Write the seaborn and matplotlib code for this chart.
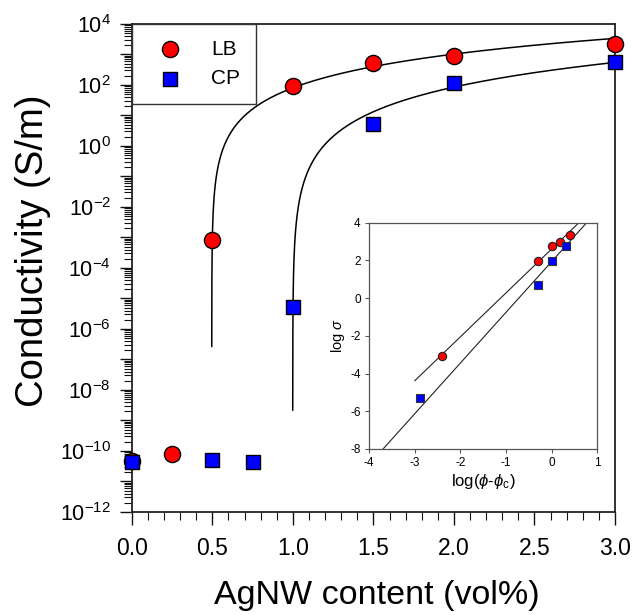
# %%--  Import
import numpy as np
import matplotlib
matplotlib.use("Agg")
import matplotlib.pyplot as plt
import matplotlib.ticker as mticker
import seaborn as sns
# %%-

# %%--  Data
#   Main plot: conductivity vs AgNW content
lb_x = [0.0, 0.25, 0.5, 1.0, 1.5, 2.0, 3.0]
lb_y = [4.8e-11, 7.8e-11, 8.3e-4, 93, 540, 890, 2150]
cp_x = [0.0, 0.5, 0.75, 1.0, 1.5, 2.0, 3.0]
cp_y = [4.5e-11, 5.0e-11, 4.3e-11, 5.1e-6, 5.2, 114, 550]

#   Inset: log(phi - phi_c) vs log sigma
lb_logx = [-2.39, -0.30, 0.0, 0.18, 0.40]
lb_logs = [-3.07, 1.97, 2.75, 2.98, 3.35]
cp_logx = [-2.88, -0.30, 0.0, 0.31]
cp_logs = [-5.31, 0.71, 1.97, 2.76]

#   Percolation fits: log sigma = a + t*log(phi - phi_c)
lb_a, lb_t, lb_phic = 2.6, 2.33, 0.4959
cp_a, cp_t, cp_phic = 1.93, 2.69, 0.9987
lb_fit_range = [-3.0, 0.6]
cp_fit_range = [-3.8, 0.8]
# %%-

# %%--  Style
sns.set_style("ticks")
plt.rcParams['font.family'] = ['Liberation Sans', 'DejaVu Sans']
plt.rcParams['mathtext.fontset'] = 'custom'
plt.rcParams['mathtext.rm'] = 'Liberation Sans'
plt.rcParams['mathtext.it'] = 'Liberation Sans:italic'
plt.rcParams['mathtext.bf'] = 'Liberation Sans:bold'
plt.rcParams['axes.unicode_minus'] = False
for k in ['text.color', 'axes.labelcolor', 'xtick.color', 'ytick.color']:
    plt.rcParams[k] = 'black'
# %%-

# %%--  Plot
fig = plt.figure(figsize=(6.34, 6.15), dpi=100)
ax = fig.add_axes([0.208, 0.1675, 0.762, 0.7935])

#   Fit curves
for a, t, phic in [(lb_a, lb_t, lb_phic), (cp_a, cp_t, cp_phic)]:
    d = np.geomspace(1.15e-4, 3.0 - phic, 500)
    sns.lineplot(x=phic + d, y=10**(a + t*np.log10(d)), color='k', lw=1.1,
                 estimator=None, sort=False, ax=ax, zorder=2)

sns.scatterplot(x=lb_x, y=lb_y, marker='o', s=135, color='#ff0000', edgecolor='k',
                linewidth=1.0, ax=ax, label='LB', zorder=3, clip_on=False)
sns.scatterplot(x=cp_x, y=cp_y, marker='s', s=115, color='#0000ff', edgecolor='k',
                linewidth=1.0, ax=ax, label='CP', zorder=4, clip_on=False)

ax.set_yscale('log')
ax.set_xlim(0, 3)
ax.set_ylim(1e-12, 1e4)
ax.yaxis.set_major_locator(mticker.FixedLocator(10.0**np.arange(-12, 5)))
ax.yaxis.set_minor_locator(mticker.LogLocator(base=10, subs=np.arange(2, 10), numticks=100))
ax.yaxis.set_major_formatter(mticker.FuncFormatter(
    lambda v, p: r'$\mathregular{10^{%d}}$' % round(np.log10(v)) if round(np.log10(v)) % 2 == 0 else ''))
ax.xaxis.set_major_locator(mticker.MultipleLocator(0.5))
ax.xaxis.set_minor_locator(mticker.MultipleLocator(0.1))
ax.xaxis.set_major_formatter(mticker.FormatStrFormatter('%.1f'))

ax.tick_params(which='major', direction='out', length=9, width=1.0, color='#111')
ax.tick_params(which='minor', direction='out', length=5.5, width=0.8, color='#111')
ax.tick_params(axis='x', which='major', labelsize=16.5, pad=9)
ax.tick_params(axis='y', which='major', labelsize=15.5, pad=6)
for s in ax.spines.values():
    s.set_color('#222')
    s.set_linewidth(1.3)

ax.set_xlabel('AgNW content (vol%)', fontsize=24.5)
ax.set_ylabel('Conductivity (S/m)', fontsize=27.5)
ax.xaxis.set_label_coords(0.507, -0.140)
ax.yaxis.set_label_coords(-0.168, 0.535)

leg = ax.legend(loc='upper left', bbox_to_anchor=(0, 1), borderaxespad=0, fontsize=15,
                frameon=True, fancybox=False, edgecolor='#333', borderpad=0.75,
                handlelength=2.2, handletextpad=0.85, labelspacing=0.5)
leg.get_frame().set_linewidth(1.0)
leg.get_frame().set_alpha(1)

#   Inset
axins = fig.add_axes([0.582, 0.270, 0.360, 0.368])
sns.lineplot(x=np.linspace(*lb_fit_range, 50), y=lb_a + lb_t*np.linspace(*lb_fit_range, 50),
             color='#222', lw=0.8, estimator=None, ax=axins)
sns.lineplot(x=np.linspace(*cp_fit_range, 50), y=cp_a + cp_t*np.linspace(*cp_fit_range, 50),
             color='#222', lw=0.8, estimator=None, ax=axins)
sns.scatterplot(x=lb_logx, y=lb_logs, marker='o', s=36, color='#ff0000', edgecolor='#222',
                linewidth=0.8, ax=axins, zorder=3)
sns.scatterplot(x=cp_logx, y=cp_logs, marker='s', s=30, color='#0000ff', edgecolor='#333',
                linewidth=0.8, ax=axins, zorder=4)
axins.set_xlim(-4, 1)
axins.set_ylim(-8, 4)
axins.set_xticks(range(-4, 2))
axins.set_yticks(range(-8, 5, 2))
axins.tick_params(direction='out', length=3, width=0.8, color='#555', labelsize=8.5, pad=3)
for s in axins.spines.values():
    s.set_color('#555')
    s.set_linewidth(0.9)
axins.set_xlabel(r'log($\phi$-$\phi_\mathrm{c}$)', fontsize=12, labelpad=2)
axins.set_ylabel(r'log $\sigma$', fontsize=10.5, labelpad=2)

plt.savefig('out.png', dpi=100)
# %%-
